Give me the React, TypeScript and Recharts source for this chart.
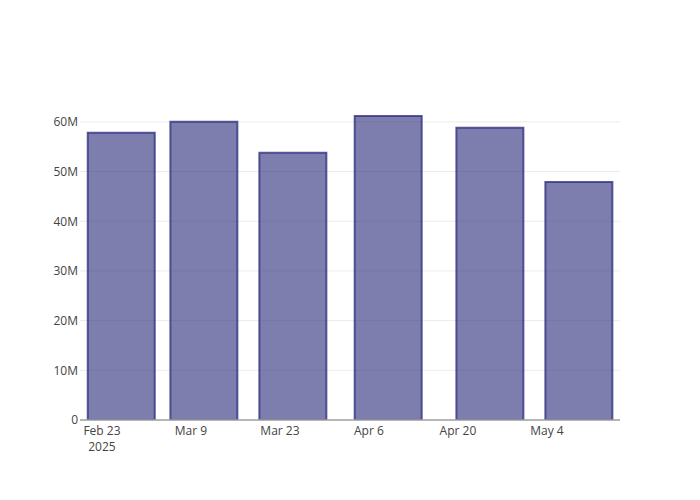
import { BarChart, Bar, XAxis, YAxis, CartesianGrid } from "recharts"

// bar dates and values
const dates = ["2025-02-26", "2025-03-11", "2025-03-25", "2025-04-09", "2025-04-25", "2025-05-09"]
const values = [57.8e6, 60.0e6, 53.8e6, 61.2e6, 58.8e6, 47.9e6]

const tickDates = ["2025-02-23", "2025-03-09", "2025-03-23", "2025-04-06", "2025-04-20", "2025-05-04"]
const tickLabels = ["Feb 23", "Mar 9", "Mar 23", "Apr 6", "Apr 20", "May 4"]
const yTicks = [0, 10e6, 20e6, 30e6, 40e6, 50e6, 60e6]

const DAY = 86400000
const origin = Date.UTC(2025, 1, 23)
const toDay = (s: string) => {
  const [y, m, d] = s.split("-").map(Number)
  return (Date.UTC(y, m - 1, d) - origin) / DAY
}

const data = dates.map((d, i) => ({ day: toDay(d), value: values[i] }))
const xTicks = tickDates.map(toDay)

const font = '"Open Sans", "DejaVu Sans", sans-serif'

function DateTick(props: any) {
  const { x, y, payload } = props
  const i = xTicks.indexOf(payload.value)
  return (
    <g>
      <text x={x} y={y + 7} textAnchor="middle" fill="#444" fontSize={12} fontFamily={font}>
        {tickLabels[i]}
      </text>
      {i === 0 && (
        <text x={x} y={y + 23} textAnchor="middle" fill="#444" fontSize={12} fontFamily={font}>
          2025
        </text>
      )}
    </g>
  )
}

export default function App() {
  return (
    <div style={{ position: "absolute", left: 0, top: 0, width: 700, height: 500, background: "#fff" }}>
      <BarChart
        width={700}
        height={500}
        data={data}
        margin={{ top: 100, right: 80, bottom: 50, left: 20 }}
      >
        <CartesianGrid vertical={false} stroke="#ebebeb" horizontalValues={yTicks} />
        <XAxis
          dataKey="day"
          type="number"
          domain={[-3.46, 81.5]}
          ticks={xTicks}
          tick={<DateTick />}
          tickLine={false}
          axisLine={{ stroke: "#a0a0a0", strokeWidth: 1.5 }}
          height={30}
          allowDataOverflow
          interval={0}
        />
        <YAxis
          domain={[0, 64.4e6]}
          ticks={yTicks}
          width={60}
          axisLine={false}
          tickLine={false}
          tickSize={0}
          tickMargin={2}
          tick={{ fill: "#444", fontSize: 12, fontFamily: font }}
          tickFormatter={(v: number) => (v === 0 ? "0" : `${v / 1e6}M`)}
          allowDataOverflow
        />
        <Bar
          dataKey="value"
          barSize={67}
          fill="rgb(40,40,120)"
          fillOpacity={0.6}
          stroke="rgb(50,50,130)"
          strokeOpacity={0.8}
          strokeWidth={2}
          isAnimationActive={false}
        />
      </BarChart>
    </div>
  )
}
